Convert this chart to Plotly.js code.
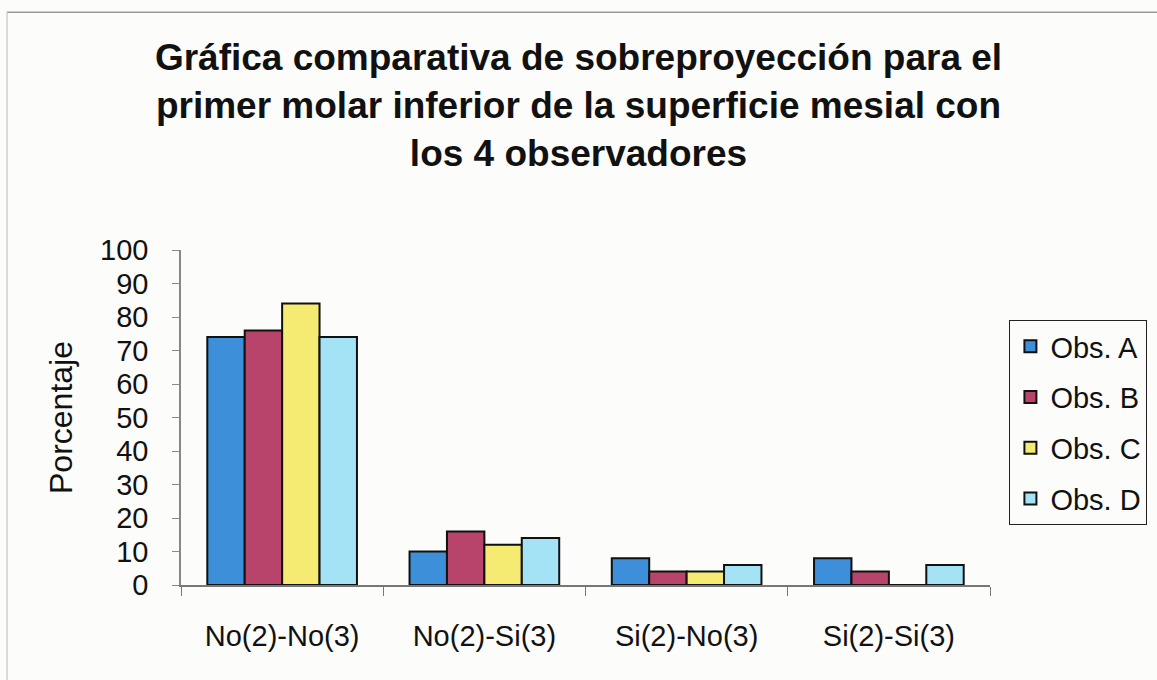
<!DOCTYPE html>
<html>
<head>
<meta charset="utf-8">
<script src="https://cdn.plot.ly/plotly-3.0.1.min.js"></script>
<style>html,body{margin:0;padding:0;background:#fcfcfb;}#chart{width:1157px;height:680px;}</style>
</head>
<body>
<div id="chart"></div>
<script>
const categories = ["No(2)-No(3)", "No(2)-Si(3)", "Si(2)-No(3)", "Si(2)-Si(3)"];
const seriesNames = ["Obs. A", "Obs. B", "Obs. C", "Obs. D"];
const obsA = [74, 10, 8, 8];
const obsB = [76, 16, 4, 4];
const obsC = [84, 12, 4, 0];
const obsD = [74, 14, 6, 6];
const yTicks = [0, 10, 20, 30, 40, 50, 60, 70, 80, 90, 100];
const colors = ["#3c8fd8", "#b8446c", "#f5ea72", "#a3e3f5"];

const seriesValues = [obsA, obsB, obsC, obsD];
const traces = seriesValues.map((vals, i) => ({
  type: "bar",
  name: seriesNames[i],
  x: categories,
  y: vals,
  legendgroup: "g" + i,
  marker: {color: colors[i], line: {color: "#111", width: 2}},
  hoverinfo: "x+y+name"
}));

const fontFam = "Liberation Sans, Arial, sans-serif";
const layout = {
  width: 1157, height: 680,
  paper_bgcolor: "#fcfcfb",
  plot_bgcolor: "rgba(0,0,0,0)",
  margin: {l: 181, r: 167, t: 250, b: 95, autoexpand: false},
  font: {family: fontFam, color: "#111", size: 29},
  title: {
    text: "<b>Gráfica comparativa de sobreproyección para el<br>primer molar inferior de la superficie mesial con<br>los 4 observadores</b>",
    font: {family: fontFam, size: 37, color: "#111"},
    x: 0.5, xanchor: "center", xref: "container",
    y: 0.897, yanchor: "top", yref: "container"
  },
  barmode: "group",
  bargap: 0.26,
  bargroupgap: 0,
  showlegend: true,
  legend: {
    x: 1.024, xanchor: "left", y: 0.791, yanchor: "top",
    bordercolor: "#222", borderwidth: 1, bgcolor: "rgba(0,0,0,0)",
    font: {family: fontFam, size: 29, color: "#111"},
    traceorder: "grouped", tracegroupgap: 10,
    itemwidth: 30
  },
  xaxis: {
    type: "category",
    showline: true, linecolor: "#777", linewidth: 1.5,
    ticks: "outside", tickson: "boundaries", ticklen: 9, tickcolor: "#777",
    tickfont: {family: fontFam, size: 29, color: "#111"},
    ticklabelstandoff: 24,
    showgrid: false, zeroline: false, fixedrange: true
  },
  yaxis: {
    range: [0, 100],
    tickvals: yTicks,
    ticktext: yTicks.map(String),
    showline: true, linecolor: "#888", linewidth: 1.5,
    ticks: "outside", ticklen: 7, tickcolor: "#888",
    tickfont: {family: fontFam, size: 29, color: "#111"},
    ticklabelstandoff: 18,
    showgrid: false, zeroline: false, fixedrange: true,
    title: {text: "Porcentaje", font: {family: fontFam, size: 32, color: "#111"}, standoff: 18}
  },
  shapes: [
    {type: "line", xref: "paper", yref: "paper", x0: -0.215, x1: 1.25, y0: 1.71, y1: 1.71, line: {color: "#999", width: 1.5}},
    {type: "line", xref: "paper", yref: "paper", x0: -0.215, x1: -0.215, y0: 1.71, y1: -0.3, line: {color: "#bbb", width: 1}}
  ]
};

Plotly.newPlot("chart", traces, layout, {displayModeBar: false, staticPlot: false});
</script>
</body>
</html>
